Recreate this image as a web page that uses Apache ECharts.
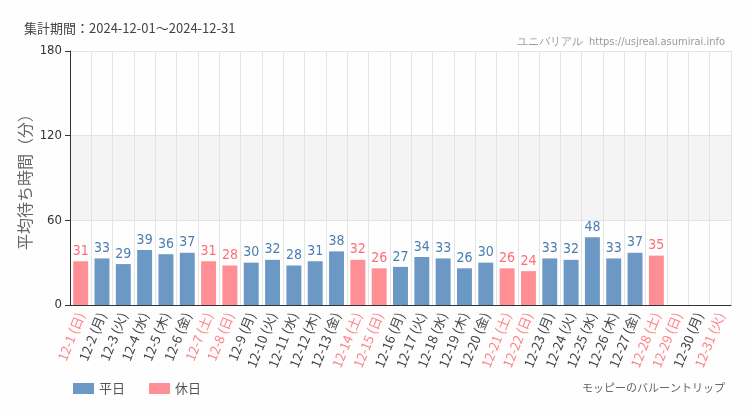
<!DOCTYPE html>
<html><head><meta charset="utf-8">
<script src="https://cdn.jsdelivr.net/npm/echarts@6/dist/echarts.min.js"></script>
<style>html,body{margin:0;padding:0;background:#fdfefd;}#c{width:750px;height:410px;}</style>
</head><body><div id="c"></div>
<script>
var categories = ["12-1 (日)","12-2 (月)","12-3 (火)","12-4 (水)","12-5 (木)","12-6 (金)","12-7 (土)","12-8 (日)","12-9 (月)","12-10 (火)","12-11 (水)","12-12 (木)","12-13 (金)","12-14 (土)","12-15 (日)","12-16 (月)","12-17 (火)","12-18 (水)","12-19 (木)","12-20 (金)","12-21 (土)","12-22 (日)","12-23 (月)","12-24 (火)","12-25 (水)","12-26 (木)","12-27 (金)","12-28 (土)","12-29 (日)","12-30 (月)","12-31 (火)"];
var waitValues = [31,33,29,39,36,37,31,28,30,32,28,31,38,32,26,27,34,33,26,30,26,24,33,32,48,33,37,35,null,null,null];
var isHoliday = [1,0,0,0,0,0,1,1,0,0,0,0,0,1,1,0,0,0,0,0,1,1,0,0,0,0,0,1,1,0,1];
var yTicks = [0,60,120,180];

var weekdayData = waitValues.map(function(v,i){ return (!isHoliday[i] && v!=null) ? v : '-'; });
var holidayData = waitValues.map(function(v,i){ return (isHoliday[i] && v!=null) ? v : '-'; });

var BLUE = '#6b98c4', PINK = '#ff8f94';
var numFont = '"Liberation Sans Narrow","DejaVu Sans Condensed",sans-serif';
var jp = '"Noto Sans CJK JP",sans-serif';
var chart = echarts.init(document.getElementById('c'));
chart.setOption({
  animation:false,
  backgroundColor:'#fdfefd',
  title:[
    {text:'集計期間：2024-12-01～2024-12-31', left:19, top:17, textStyle:{fontSize:13, fontWeight:'normal', color:'#444', fontFamily:jp}},
    {text:'ユニバリアル  https://usjreal.asumirai.info', right:20, top:32, textStyle:{fontSize:11, fontWeight:'normal', color:'#999', fontFamily:numFont}},
    {text:'モッピーのバルーントリップ', right:20, top:377, textStyle:{fontSize:11, fontWeight:'normal', color:'#666', fontFamily:jp}}
  ],
  legend:{left:68, top:377, itemWidth:21, itemHeight:11, itemGap:24, icon:'rect',
    textStyle:{fontSize:13, color:'#555', fontFamily:jp},
    data:['平日','休日']},
  grid:{left:70, right:19, top:51, bottom:105},
  xAxis:{type:'category', data:categories, boundaryGap:true,
    axisLine:{lineStyle:{color:'#333'}},
    axisTick:{alignWithLabel:true, lineStyle:{color:'#333'}},
    splitLine:{show:true, interval:0, lineStyle:{color:'#e4e4e4'}},
    axisLabel:{interval:0, rotate:68, fontSize:13, margin:8, fontFamily:jp,
      color:function(v,i){ return isHoliday[i] ? '#ff8088' : '#444'; }}
  },
  yAxis:{type:'value', min:0, max:180, interval:60,
    name:'平均待ち時間（分）', nameLocation:'middle', nameGap:37, nameMoveOverlap:false,
    nameTextStyle:{fontSize:16, color:'#666', fontFamily:jp},
    axisLine:{show:true, lineStyle:{color:'#333'}},
    axisTick:{show:true, lineStyle:{color:'#333'}},
    axisLabel:{fontSize:13, color:'#333', fontFamily:numFont,
      formatter:function(v){ return yTicks.indexOf(v)>=0 ? String(v) : ''; }},
    splitLine:{lineStyle:{color:'#e4e4e4'}},
    splitArea:{show:true, areaStyle:{color:['rgba(255,255,255,0)','#f3f4f3','rgba(255,255,255,0)']}}
  },
  series:[
    {name:'平日', type:'bar', stack:'a', data:weekdayData, barWidth:'70%',
     itemStyle:{color:BLUE},
     label:{show:true, position:'top', distance:3, color:'#4a7db3', fontSize:14, fontFamily:numFont}},
    {name:'休日', type:'bar', stack:'a', data:holidayData, barWidth:'70%',
     itemStyle:{color:PINK},
     label:{show:true, position:'top', distance:3, color:'#ff6d78', fontSize:14, fontFamily:numFont}}
  ]
});
</script></body></html>
